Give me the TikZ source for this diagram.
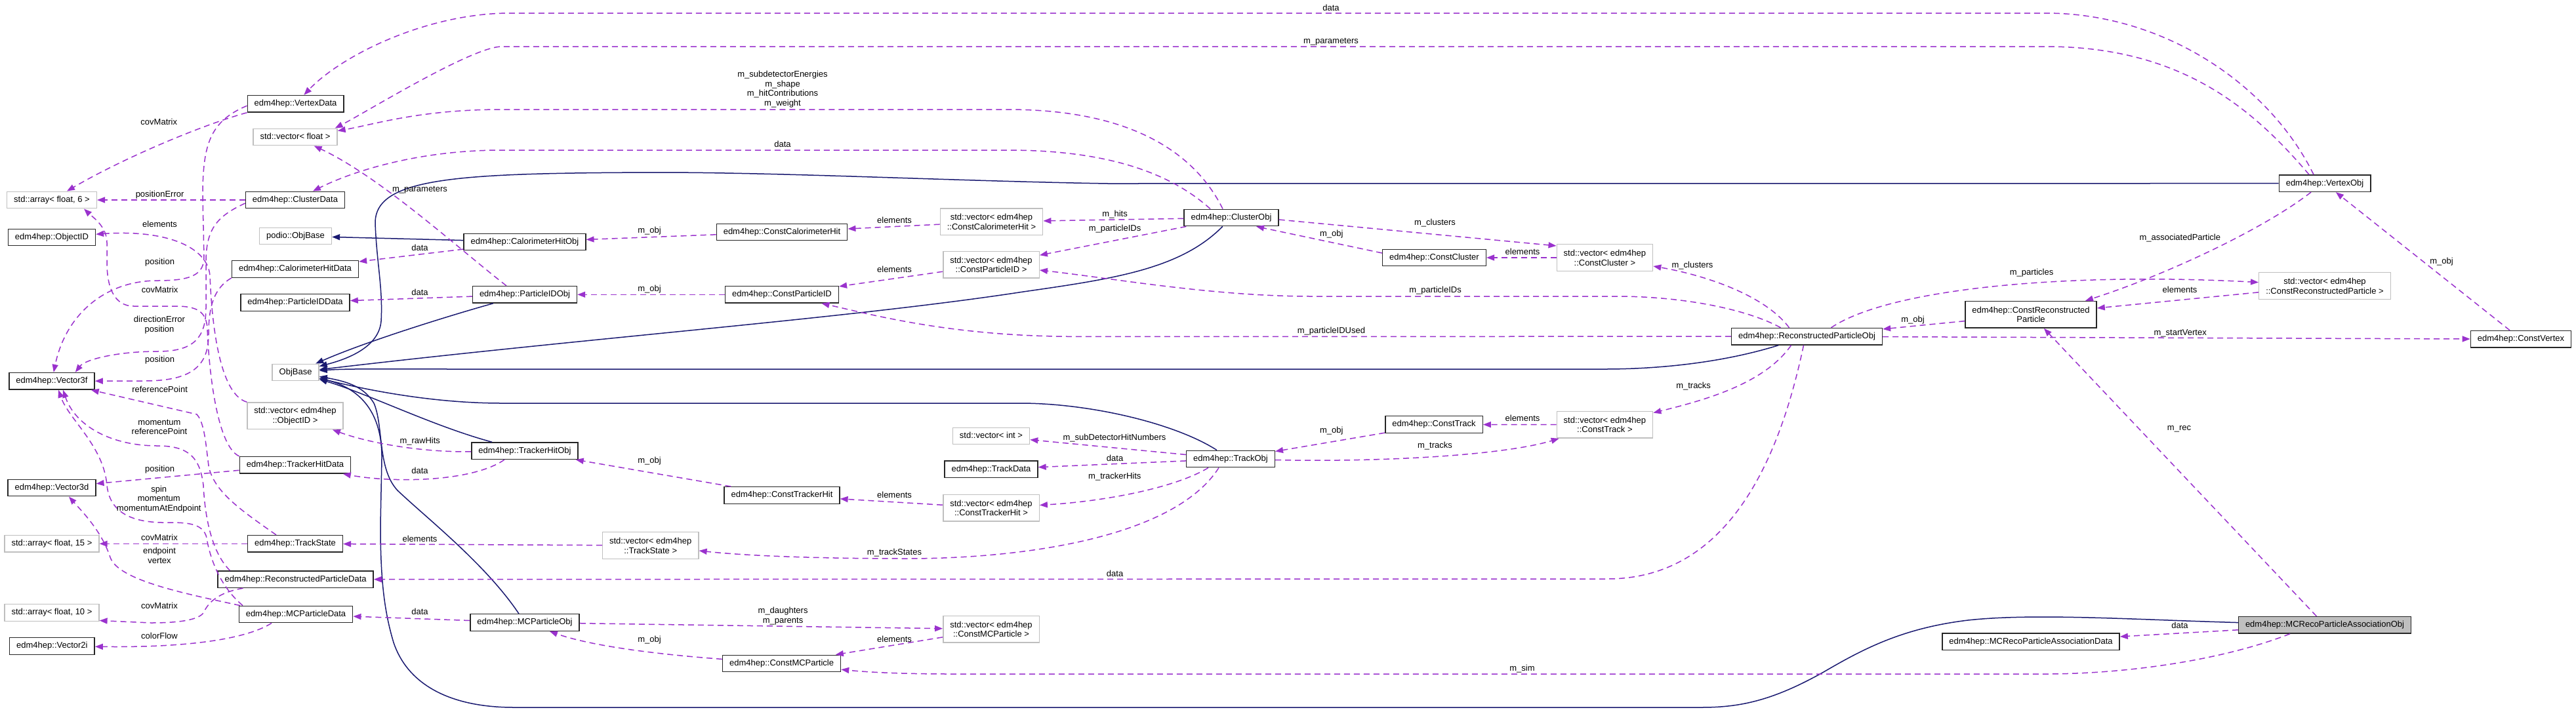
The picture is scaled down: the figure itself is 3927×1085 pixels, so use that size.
\documentclass[tikz,border=0pt]{standalone}
\usepackage{fontspec}
\setmainfont{Liberation Sans}
\usetikzlibrary{arrows.meta}
\definecolor{usepurple}{HTML}{9A32CD}
\definecolor{inhblue}{HTML}{191970}
\definecolor{boxgrey}{HTML}{BFBFBF}
\newcommand\dgfont{\fontsize{13}{14.7}\selectfont}
\tikzset{
 box/.style={rectangle,font=\dgfont,inner xsep=10.5pt,inner ysep=0pt,line width=1.4pt,fill=white},
 oneline/.style={minimum height=25.5pt,text height=9.4pt,text depth=2.8pt},
 twoline/.style={align=center,minimum height=40.7pt},
 doc/.style={box,draw=black!85},
 undoc/.style={box,draw=boxgrey},
 focus/.style={box,draw=black!85,fill=boxgrey},
 usage/.style={draw=usepurple,line width=1.5pt,dash pattern=on 9pt off 6pt,-{Triangle[length=12pt,width=9pt]}},
 inherit/.style={draw=inhblue,line width=1.5pt,-{Triangle[length=12pt,width=9pt]}},
 lbl/.style={font=\dgfont,inner sep=0pt,anchor=base},
 lblm/.style={font=\dgfont,inner sep=0pt,align=center}
}
\begin{document}
\begin{tikzpicture}[x=1pt,y=-1pt]
\path[use as bounding box] (0,0) rectangle (3927,1085);
% plain types and data structs
\node[undoc,oneline] (arrsix) at (79,305) {std::array< float, 6 >};
\node[doc,oneline] (objid) at (79,362) {edm4hep::ObjectID};
\node[doc,oneline] (vthreef) at (79,581.3) {edm4hep::Vector3f};
\node[doc,oneline] (vthreed) at (79,744) {edm4hep::Vector3d};
\node[undoc,oneline] (arrfifteen) at (79,829.3) {std::array< float, 15 >};
\node[undoc,oneline] (arrten) at (79,934.5) {std::array< float, 10 >};
\node[doc,oneline] (vtwoi) at (79.4,985.5) {edm4hep::Vector2i};
\node[doc,oneline] (vtxdata) at (450.6,158.3) {edm4hep::VertexData};
\node[undoc,oneline] (vecfloat) at (450,209) {std::vector< float >};
\node[doc,oneline] (clusdata) at (450,305) {edm4hep::ClusterData};
\node[undoc,oneline] (podiobase) at (450.5,360) {podio::ObjBase};
\node[doc,oneline] (calohitdata) at (450,410.5) {edm4hep::CalorimeterHitData};
\node[doc,oneline] (piddata) at (450,461.5) {edm4hep::ParticleIDData};
\node[undoc,oneline] (objbase) at (450.6,568) {ObjBase};
\node[undoc,twoline] (vecobjid) at (450,634.3) {std::vector< edm4hep\\::ObjectID >};
\node[doc,oneline] (trkhitdata) at (450,709.3) {edm4hep::TrackerHitData};
\node[doc,oneline] (trkstate) at (450,829.3) {edm4hep::TrackState};
\node[doc,oneline] (recodata) at (450.6,883.7) {edm4hep::ReconstructedParticleData};
\node[doc,oneline] (mcpdata) at (451,937) {edm4hep::MCParticleData};
% obj classes and handles
\node[doc,oneline] (calohitobj) at (800,369) {edm4hep::CalorimeterHitObj};
\node[doc,oneline] (pidobj) at (800,449.3) {edm4hep::ParticleIDObj};
\node[doc,oneline] (trkhitobj) at (800,687.7) {edm4hep::TrackerHitObj};
\node[doc,oneline] (mcpobj) at (800,949.5) {edm4hep::MCParticleObj};
\node[undoc,twoline] (vectrkstate) at (991.7,832) {std::vector< edm4hep\\::TrackState >};
\node[doc,oneline] (constcalohit) at (1192,354) {edm4hep::ConstCalorimeterHit};
\node[doc,oneline] (constpid) at (1192,449.3) {edm4hep::ConstParticleID};
\node[doc,oneline] (consttrkhit) at (1192,755.5) {edm4hep::ConstTrackerHit};
\node[doc,oneline] (constmcp) at (1191.6,1012) {edm4hep::ConstMCParticle};
\node[undoc,twoline] (veccalohit) at (1511.5,338.3) {std::vector< edm4hep\\::ConstCalorimeterHit >};
\node[undoc,twoline] (veccpid) at (1511,403.7) {std::vector< edm4hep\\::ConstParticleID >};
\node[undoc,oneline] (vecint) at (1511,665) {std::vector< int >};
\node[doc,oneline] (trkdata) at (1511,715.7) {edm4hep::TrackData};
\node[undoc,twoline] (vectrkhit) at (1511,774.7) {std::vector< edm4hep\\::ConstTrackerHit >};
\node[undoc,twoline] (vecmcp) at (1511,959.8) {std::vector< edm4hep\\::ConstMCParticle >};
\node[doc,oneline] (clusobj) at (1877,332) {edm4hep::ClusterObj};
\node[doc,oneline] (trkobj) at (1876,700) {edm4hep::TrackObj};
\node[doc,oneline] (constclus) at (2186.5,393) {edm4hep::ConstCluster};
\node[doc,oneline] (consttrk) at (2186,647.5) {edm4hep::ConstTrack};
\node[undoc,twoline] (vecclus) at (2446.4,393) {std::vector< edm4hep\\::ConstCluster >};
\node[undoc,twoline] (vectrk) at (2446.4,647.8) {std::vector< edm4hep\\::ConstTrack >};
\node[doc,oneline] (recoobj) at (2754.5,513.2) {edm4hep::ReconstructedParticleObj};
\node[doc,twoline] (constreco) at (3096,479.8) {edm4hep::ConstReconstructed\\Particle};
\node[doc,oneline] (assocdata) at (3096,978.7) {edm4hep::MCRecoParticleAssociationData};
\node[doc,oneline] (vtxobj) at (3544,279.7) {edm4hep::VertexObj};
\node[undoc,twoline] (vecreco) at (3544,436) {std::vector< edm4hep\\::ConstReconstructedParticle >};
\node[focus,oneline] (assocobj) at (3544,953.3) {edm4hep::MCRecoParticleAssociationObj};
\node[doc,oneline] (constvtx) at (3843,517.3) {edm4hep::ConstVertex};
% inheritance
\draw[inherit] (calohitobj) -- (podiobase);
\draw[inherit] (pidobj) .. controls (690,480) and (560,520) .. (objbase);
\draw[inherit] (clusobj) .. controls (1800,410) and (1700,425) .. (1560,445) .. controls (1300,485) and (900,515) .. (objbase);
\draw[inherit] (vtxobj) -- (1689,280) .. controls (1450,276) and (1200,263) .. (1000,263) .. controls (700,264) and (572,270) .. (572,340) .. controls (574,400) and (584,440) .. (581,490) .. controls (578,525) and (540,545) .. (objbase);
\draw[inherit] (recoobj) .. controls (2620,555) and (2520,563) .. (2446,563) -- (700,563) .. controls (600,563) and (530,562) .. (objbase);
\draw[inherit] (trkobj) .. controls (1790,645) and (1660,615) .. (1555,615) -- (765,615) .. controls (660,615) and (560,595) .. (objbase);
\draw[inherit] (trkhitobj) .. controls (660,650) and (560,600) .. (objbase);
\draw[inherit] (mcpobj) .. controls (740,860) and (650,790) .. (606,748) .. controls (575,715) and (585,650) .. (570,615) .. controls (555,590) and (530,582) .. (objbase);
\draw[inherit] (assocobj) .. controls (3250,945) and (3100,935) .. (3000,946) .. controls (2900,958) and (2840,990) .. (2780,1025) .. controls (2700,1070) and (2650,1079) .. (2593,1079) -- (784,1079) .. controls (680,1079) and (620,1040) .. (600,980) .. controls (585,930) and (580,880) .. (580,800) -- (582,700) .. controls (583,620) and (540,590) .. (objbase);
% members
\draw[usage] ([xshift=-17pt]vtxobj.north) .. controls (3460,130) and (3300,20) .. (3118,20) -- (778,20) .. controls (650,20) and (520,85) .. (vtxdata);
\draw[usage] ([xshift=-24pt]vtxobj.north) .. controls (3430,160) and (3320,71) .. (3118,71) -- (765,71) .. controls (720,71) and (560,170) .. ([xshift=-4pt]vecfloat.north east);
\draw[usage] ([xshift=-13pt]clusobj.north) .. controls (1820,230) and (1720,167) .. (1536,167) -- (765,167) .. controls (640,167) and (570,190) .. ([yshift=-4pt]vecfloat.north east);
\draw[usage] ([xshift=-32pt]clusobj.north) .. controls (1780,260) and (1680,229) .. (1536,229) -- (765,229) .. controls (640,229) and (540,260) .. (clusdata);
\draw[usage] (clusobj) -- (veccalohit);
\draw[usage] (veccalohit) -- (constcalohit);
\draw[usage] (constcalohit) -- (calohitobj);
\draw[usage] (calohitobj) -- (calohitdata);
\draw[usage] ([xshift=-28pt]pidobj.north) .. controls (700,380) and (580,270) .. (vecfloat);
\draw[usage] (pidobj) -- (piddata);
\draw[usage] (constpid) -- (pidobj);
\draw[usage] (veccpid) -- (constpid);
\draw[usage] (clusobj) -- (veccpid);
\draw[usage] ([yshift=-3pt]clusobj.east) -- ([yshift=-3pt]vecclus.north west);
\draw[usage] ([yshift=7pt]constclus.west) -- ([xshift=38pt]clusobj.south);
\draw[usage] (vecclus) -- (constclus);
\draw[usage] ([xshift=-27pt]recoobj.north) .. controls (2690,450) and (2600,420) .. (vecclus);
\draw[usage] ([xshift=-40pt]recoobj.north) .. controls (2660,470) and (2560,452) .. (2465,452) -- (2000,452) .. controls (1850,452) and (1700,425) .. (veccpid);
\draw[usage] (recoobj) -- (1638,513.3) .. controls (1450,513) and (1330,480) .. (constpid);
\draw[usage] (constreco) -- (recoobj);
\draw[usage] ([xshift=37pt]recoobj.north) .. controls (2880,440) and (3150,415) .. (vecreco);
\draw[usage] (vecreco) -- (constreco);
\draw[usage] ([xshift=-21pt]vtxobj.south) .. controls (3450,350) and (3300,420) .. ([xshift=83pt]constreco.north);
\draw[usage] (constvtx) -- (vtxobj);
\draw[usage] (recoobj) -- (constvtx);
\draw[usage] (assocobj) -- (constreco);
\draw[usage] (assocobj) -- (assocdata);
\draw[usage] ([xshift=-53pt]assocobj.south) .. controls (3380,1010) and (3230,1028) .. (3118,1028) -- (1450,1028) .. controls (1370,1028) and (1320,1025) .. (constmcp);
\draw[usage] ([xshift=-5pt]recoobj.south) .. controls (2715,690) and (2640,883) .. (2450,883) -- (recodata);
\draw[usage] ([xshift=-24pt]recoobj.south) .. controls (2690,585) and (2600,610) .. (vectrk);
\draw[usage] (vectrk) -- (consttrk);
\draw[usage] (consttrk) -- (trkobj);
\draw[usage] (trkobj) .. controls (2100,705) and (2290,695) .. (vectrk);
\draw[usage] (trkobj) -- (vecint);
\draw[usage] (trkobj) -- (trkdata);
\draw[usage] ([xshift=-34pt]trkobj.south) .. controls (1790,745) and (1680,765) .. (vectrkhit);
\draw[usage] ([xshift=-18pt]trkobj.south) .. controls (1790,820) and (1560,852) .. (1383,852) .. controls (1250,852) and (1140,848) .. (vectrkstate);
\draw[usage] (vectrkhit) -- (consttrkhit);
\draw[usage] (consttrkhit) -- (trkhitobj);
\draw[usage] (trkhitobj) .. controls (640,690) and (560,675) .. (vecobjid);
\draw[usage] ([xshift=-31pt]trkhitobj.south) .. controls (720,735) and (600,737) .. (trkhitdata);
\draw[usage] (vectrkstate) -- (trkstate);
\draw[usage] (mcpobj) -- (mcpdata);
\draw[usage] (mcpobj) -- (vecmcp);
\draw[usage] (vecmcp) -- (constmcp);
\draw[usage] (constmcp) .. controls (1000,998) and (900,985) .. (mcpobj);
% data members of the structs
\draw[usage] (vtxdata.south west) .. controls (310,190) and (190,240) .. (arrsix);
\draw[usage] (clusdata) -- (arrsix);
\draw[usage] (vecobjid) .. controls (330,600) and (322,470) .. (320,420) .. controls (316,375) and (250,350) .. (objid);
\draw[usage] ([yshift=-3pt]vtxdata.west) .. controls (320,185) and (309,220) .. (309,300) -- (311,390) .. controls (312,420) and (290,428) .. (240,428) .. controls (160,428) and (100,480) .. (vthreef);
\draw[usage] (calohitdata.south west) .. controls (325,440) and (318,470) .. (318,510) .. controls (318,560) and (290,581) .. (220,581) -- (vthreef);
\draw[usage] ([yshift=-5pt]clusdata.west) .. controls (330,330) and (314,350) .. (314,400) -- (314,470) .. controls (314,520) and (290,536) .. (240,536) .. controls (180,536) and (130,548) .. ([xshift=-30pt]vthreef.north east);
\draw[usage] (trkhitdata.north west) .. controls (330,680) and (318,560) .. (316,500) .. controls (314,475) and (300,467) .. (268,467) -- (204,467) .. controls (175,467) and (163,440) .. (163,400) -- (163,370) .. controls (163,345) and (140,330) .. ([xshift=-20pt]arrsix.south east);
\draw[usage] ([xshift=-29pt]trkstate.north) .. controls (370,780) and (325,750) .. (318,710) .. controls (314,680) and (312,645) .. (300,632) -- ([xshift=-6pt]vthreef.south east);
\draw[usage] ([xshift=-100pt]recodata.north) .. controls (320,840) and (312,780) .. (310,740) .. controls (305,700) and (290,680) .. (240,680) .. controls (170,680) and (115,650) .. ([xshift=17pt]vthreef.south);
\draw[usage] ([xshift=-81pt]mcpdata.north) .. controls (330,890) and (318,840) .. (315,820) .. controls (310,800) and (290,797) .. (260,797) .. controls (215,798) and (168,790) .. (163,740) .. controls (158,680) and (105,640) .. ([xshift=10pt]vthreef.south);
\draw[usage] (trkhitdata) -- (vthreed);
\draw[usage] ([xshift=-85pt]mcpdata.north) .. controls (280,905) and (180,885) .. (168,850) .. controls (155,810) and (125,780) .. ([xshift=26pt]vthreed.south);
\draw[usage] (trkstate) -- (arrfifteen);
\draw[usage] ([xshift=-80pt]recodata.south) .. controls (325,905) and (315,925) .. (310,935) .. controls (300,948) and (260,950) .. (230,950) -- ([yshift=-12pt]arrten.east);
\draw[usage] ([xshift=-37pt]mcpdata.south) .. controls (380,972) and (300,988) .. (vtwoi);
% edge labels
\node[lbl] (t-vtxdata) at (2029,16) {data};
\node[lbl] (t-vtxpar) at (2029,66) {m\_parameters};
\node[lblm] (t-clusfloat) at (1193,136) {m\_subdetectorEnergies\\m\_shape\\m\_hitContributions\\m\_weight};
\node[lbl] (t-clusdata) at (1193,224) {data};
\node[lbl] (t-hits) at (1699.6,330) {m\_hits};
\node[lbl] (t-pids) at (1699.6,352.3) {m\_particleIDs};
\node[lbl] (t-elcalo) at (1363.5,340) {elements};
\node[lbl] (t-objcalo) at (990,355) {m\_obj};
\node[lbl] (t-clusters) at (2187.5,343.3) {m\_clusters};
\node[lbl] (t-objclus) at (2029.7,360.7) {m\_obj};
\node[lbl] (t-assoc) at (3323.3,366.7) {m\_associatedParticle};
\node[lbl] (t-calodata) at (640,382.3) {data};
\node[lbl] (t-pidpar) at (640,292.7) {m\_parameters};
\node[lbl] (t-piddata) at (640,450) {data};
\node[lbl] (t-objpid) at (990,444.3) {m\_obj};
\node[lbl] (t-elpid) at (1363.5,415) {elements};
\node[lbl] (t-pidused) at (2029.4,508.3) {m\_particleIDUsed};
\node[lbl] (t-subdet) at (1699,671) {m\_subDetectorHitNumbers};
\node[lbl] (t-trkdata) at (1699.6,703.3) {data};
\node[lbl] (t-trkhits) at (1699.3,730.3) {m\_trackerHits};
\node[lbl] (t-elclus) at (2321,388.3) {elements};
\node[lbl] (t-recoclus) at (2580,408.3) {m\_clusters};
\node[lbl] (t-recopids) at (2188,446.7) {m\_particleIDs};
\node[lbl] (t-objreco) at (2916,491.7) {m\_obj};
\node[lbl] (t-recotrk) at (2581.6,592.3) {m\_tracks};
\node[lbl] (t-eltrk) at (2321,642.7) {elements};
\node[lbl] (t-objtrk) at (2029.7,660) {m\_obj};
\node[lbl] (t-trktrk) at (2187.5,683.3) {m\_tracks};
\node[lbl] (t-particles) at (3097,419) {m\_particles};
\node[lbl] (t-elreco) at (3323,446.7) {elements};
\node[lbl] (t-objvtx) at (3722,402.3) {m\_obj};
\node[lbl] (t-start) at (3323.7,511) {m\_startVertex};
\node[lbl] (t-rec) at (3322,656.7) {m\_rec};
\node[lbl] (t-rawhits) at (640.3,676) {m\_rawHits};
\node[lbl] (t-hitdata) at (640,722.3) {data};
\node[lbl] (t-objhit) at (990,706.7) {m\_obj};
\node[lbl] (t-eltrkst) at (640,826) {elements};
\node[lbl] (t-mcpdata) at (640,937.7) {data};
\node[lbl] (t-objmcp) at (990,979.3) {m\_obj};
\node[lbl] (t-elhit) at (1363.5,759.3) {elements};
\node[lbl] (t-trkstates) at (1363.5,846.7) {m\_trackStates};
\node[lbl] (t-recodata) at (1699.6,879.3) {data};
\node[lblm] (t-daughters) at (1193.6,939.3) {m\_daughters\\m\_parents};
\node[lbl] (t-elmcp) at (1363.5,979.3) {elements};
\node[lbl] (t-sim) at (2320.5,1023.3) {m\_sim};
\node[lbl] (t-assocdata) at (3323,958.3) {data};
\node[lbl] (t-vtxcov) at (242.3,190.7) {covMatrix};
\node[lbl] (t-poserr) at (243.6,300.7) {positionError};
\node[lbl] (t-elobjid) at (243.6,346.7) {elements};
\node[lbl] (t-vtxpos) at (243.6,403.3) {position};
\node[lbl] (t-hitcov) at (243.6,446.7) {covMatrix};
\node[lblm] (t-direrr) at (243,495.3) {directionError\\position};
\node[lbl] (t-calopos) at (243.6,552.3) {position};
\node[lbl] (t-refpt) at (243.6,598.3) {referencePoint};
\node[lblm] (t-recomom) at (243,651.4) {momentum\\referencePoint};
\node[lbl] (t-hitpos) at (243.6,719) {position};
\node[lblm] (t-spin) at (242.3,761.5) {spin\\momentum\\momentumAtEndpoint};
\node[lbl] (t-stcov) at (243,824.3) {covMatrix};
\node[lblm] (t-endpt) at (243,847.3) {endpoint\\vertex};
\node[lbl] (t-recocov) at (243,928.3) {covMatrix};
\node[lbl] (t-color) at (243,974.3) {colorFlow};
\end{tikzpicture}
\end{document}
